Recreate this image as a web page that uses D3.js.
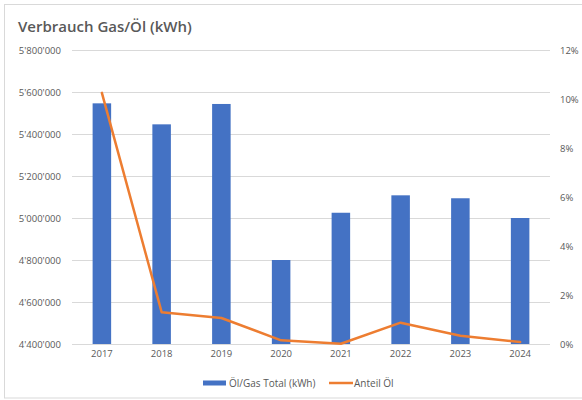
<!DOCTYPE html>
<html>
<head>
<meta charset="utf-8">
<script src="https://cdn.jsdelivr.net/npm/d3@7"></script>
<style>
  body { margin: 0; background: #fff; }
  svg text { font-family: "Open Sans", "Noto Sans", sans-serif; fill: #595959; }
</style>
</head>
<body>
<div id="chart"></div>
<script>
// Chart data
const years = ["2017", "2018", "2019", "2020", "2021", "2022", "2023", "2024"];
const totalKwh = [5546000, 5446000, 5543000, 4800000, 5025000, 5108000, 5094000, 5000000];
const oilShare = [10.25, 1.3, 1.06, 0.15, 0.01, 0.87, 0.34, 0.08];
const leftTicks = [4400000, 4600000, 4800000, 5000000, 5200000, 5400000, 5600000, 5800000];
const rightTicks = [0, 2, 4, 6, 8, 10, 12];

const WIDTH = 582;
const HEIGHT = 400;
const PLOT_LEFT = 72;
const PLOT_RIGHT = 550;
const PLOT_TOP = 50;
const PLOT_BOTTOM = 344;

const BAR_COLOR = "#4472C4";
const LINE_COLOR = "#ED7D31";
const GRID_COLOR = "#d9d9d9";

const svg = d3.select("#chart")
    .append("svg")
    .attr("width", WIDTH)
    .attr("height", HEIGHT);

// Outer frame
svg.append("rect")
    .attr("x", 4.5)
    .attr("y", 4.5)
    .attr("width", WIDTH + 10)
    .attr("height", 393.5)
    .attr("fill", "#fff")
    .attr("stroke", GRID_COLOR);

// Title
svg.append("text")
    .attr("x", 18)
    .attr("y", 32)
    .attr("font-size", "15px")
    .attr("font-weight", 600)
    .text("Verbrauch Gas/Öl (kWh)");

// Scales
let xScale = d3.scaleBand()
    .domain(years)
    .range([PLOT_LEFT, PLOT_RIGHT])
    .paddingInner(0.69)
    .paddingOuter(0.345);

let yLeft = d3.scaleLinear()
    .domain([4400000, 5800000])
    .range([PLOT_BOTTOM, PLOT_TOP]);

let yRight = d3.scaleLinear()
    .domain([0, 12])
    .range([PLOT_BOTTOM, PLOT_TOP]);

const swiss = d3.formatLocale({ decimal: ".", thousands: "'", grouping: [3], currency: ["", ""] });
const fmtLeft = swiss.format(",");

// Gridlines
svg.append("g")
    .selectAll("line")
    .data(leftTicks)
    .enter()
    .append("line")
    .attr("x1", PLOT_LEFT)
    .attr("x2", PLOT_RIGHT)
    .attr("y1", d => Math.round(yLeft(d)) + 0.5)
    .attr("y2", d => Math.round(yLeft(d)) + 0.5)
    .attr("stroke", GRID_COLOR)
    .attr("stroke-width", 1);

// Left axis
const leftAxis = svg.append("g")
    .attr("transform", `translate(${PLOT_LEFT - 11},0)`)
    .call(d3.axisLeft(yLeft).tickValues(leftTicks).tickFormat(fmtLeft).tickSize(0).tickPadding(0));
leftAxis.select(".domain").remove();
leftAxis.selectAll("text").attr("font-size", "9.5px").attr("fill", "#595959").style("font-family", "'Open Sans', sans-serif");

// Right axis
const rightAxis = svg.append("g")
    .attr("transform", `translate(${PLOT_RIGHT + 10},0)`)
    .call(d3.axisRight(yRight).tickValues(rightTicks).tickFormat(d => d + "%").tickSize(0).tickPadding(0));
rightAxis.select(".domain").remove();
rightAxis.selectAll("text").attr("font-size", "9.5px").attr("fill", "#595959").style("font-family", "'Open Sans', sans-serif");

// Bottom axis
const bottomAxis = svg.append("g")
    .attr("transform", `translate(0,${PLOT_BOTTOM + 6})`)
    .call(d3.axisBottom(xScale).tickSize(0).tickPadding(0));
bottomAxis.select(".domain").remove();
bottomAxis.selectAll("text").attr("font-size", "9.5px").attr("fill", "#595959").style("font-family", "'Open Sans', sans-serif");

// Bars
svg.append("g")
    .selectAll("rect")
    .data(years.map((y, i) => ({ year: y, value: totalKwh[i] })))
    .enter()
    .append("rect")
    .attr("x", d => xScale(d.year))
    .attr("y", d => yLeft(d.value))
    .attr("width", xScale.bandwidth())
    .attr("height", d => PLOT_BOTTOM - yLeft(d.value))
    .attr("fill", BAR_COLOR);

// Oil share line
let line = d3.line()
    .x(d => xScale(d.year) + xScale.bandwidth() / 2)
    .y(d => yRight(d.value));

svg.append("path")
    .datum(years.map((y, i) => ({ year: y, value: oilShare[i] })))
    .attr("d", line)
    .attr("fill", "none")
    .attr("stroke", LINE_COLOR)
    .attr("stroke-width", 2.5)
    .attr("stroke-linejoin", "round")
    .attr("stroke-linecap", "round");

// Legend
const legend = svg.append("g").attr("transform", "translate(0,383)");
legend.append("rect")
    .attr("x", 203)
    .attr("y", -2.5)
    .attr("width", 23)
    .attr("height", 5)
    .attr("fill", BAR_COLOR);
legend.append("text")
    .attr("x", 229)
    .attr("y", 3.5)
    .attr("font-size", "10px")
    .text("Öl/Gas Total (kWh)");
legend.append("line")
    .attr("x1", 329)
    .attr("x2", 353)
    .attr("y1", 0)
    .attr("y2", 0)
    .attr("stroke", LINE_COLOR)
    .attr("stroke-width", 2.5);
legend.append("text")
    .attr("x", 354)
    .attr("y", 3.5)
    .attr("font-size", "10px")
    .text("Anteil Öl");
</script>
</body>
</html>
